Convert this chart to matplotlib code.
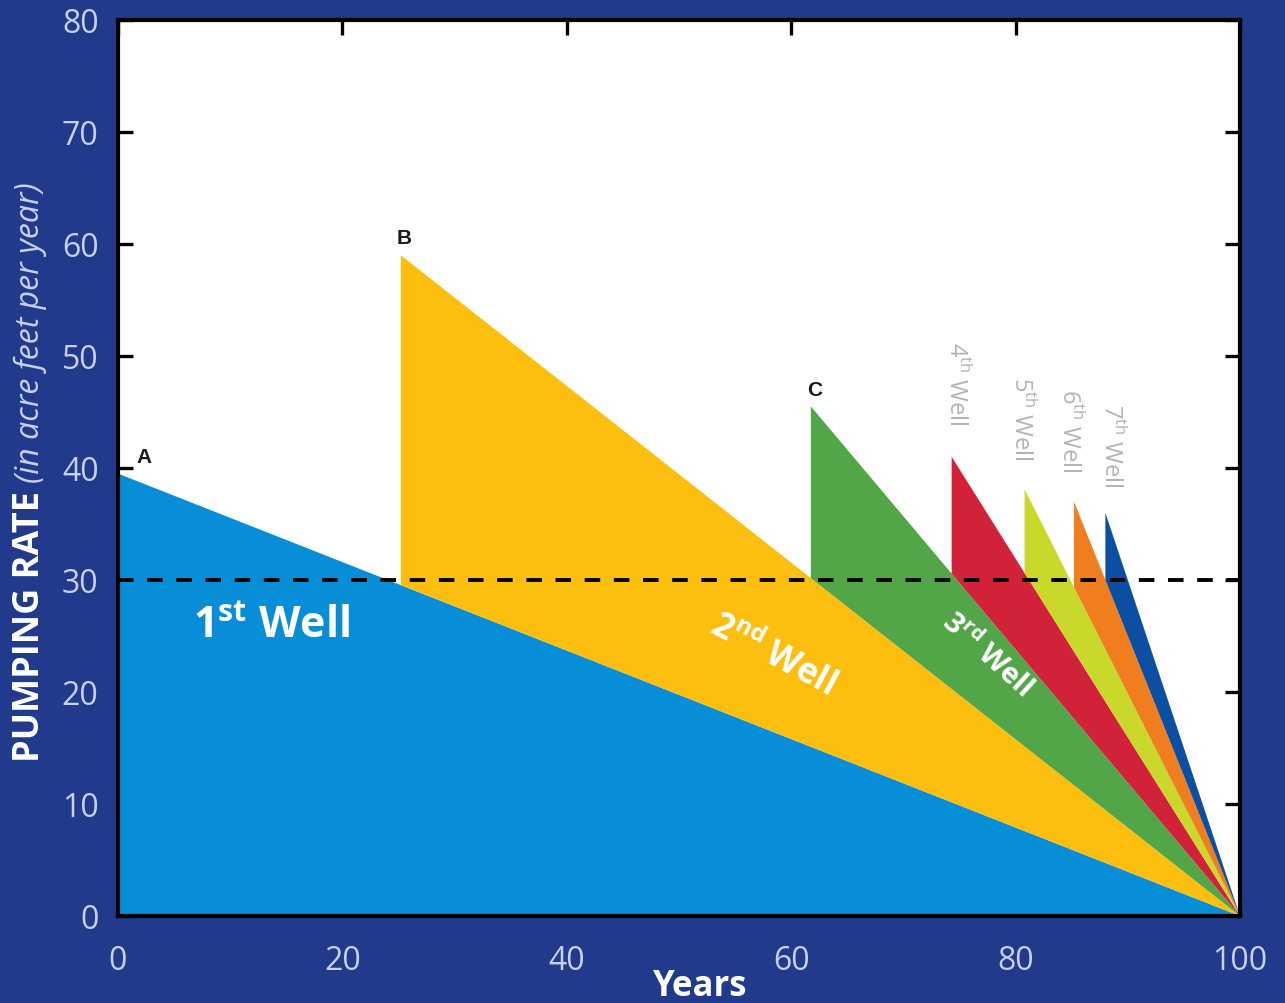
import matplotlib
matplotlib.use("Agg")
import matplotlib.pyplot as plt
from matplotlib.patches import Polygon

plt.rcParams['font.family'] = ['Open Sans', 'DejaVu Sans']
plt.rcParams['mathtext.fontset'] = 'custom'
plt.rcParams['mathtext.rm'] = 'Open Sans'
plt.rcParams['mathtext.bf'] = 'Open Sans:bold'

# well data: start year, peak pumping rate (acre feet per year)
well_start = [0, 25.2, 61.75, 74.3, 80.8, 85.2, 88.0]
well_peak = [39.5, 59.0, 45.5, 41.0, 38.1, 37.0, 36.0]
well_colors = ['#078ed6', '#fcbf10', '#52a647', '#d1223a', '#c9d82b', '#f07e1f', '#0b4fa3']
end_year = 100
threshold = 30
peak_marks = ['A', 'B', 'C']

bg = '#213a8b'
tick_col = '#c8d0ee'

fig = plt.figure(figsize=(12.85, 10.04), dpi=100, facecolor=bg)
ax = fig.add_axes([118 / 1285, 87 / 1004, 1122 / 1285, 896 / 1004])
ax.set_facecolor('white')
ax.set_xlim(0, 100)
ax.set_ylim(0, 80)


def line_at(i, x):
    # value of well i's declining line at year x
    return well_peak[i] * (end_year - x) / (end_year - well_start[i])


for i in range(len(well_start)):
    x0 = well_start[i]
    base = 0 if i == 0 else line_at(i - 1, x0)
    pts = [(x0, base), (x0, well_peak[i]), (end_year, 0)]
    ax.add_patch(Polygon(pts, closed=True, facecolor=well_colors[i],
                         edgecolor='none', zorder=2))

ax.axhline(threshold, color='black', lw=2.8, ls=(0, (4, 3.5)), zorder=3)

# A, B, C marks
for i, m in enumerate(peak_marks):
    ax.text(well_start[i] + 0.3 + (2 if i == 0 else 0), well_peak[i] + 0.7, m,
            fontsize=15, fontweight='bold', color='#1a1a1a',
            family=['Liberation Sans', 'DejaVu Sans'],
            ha='center', va='bottom', zorder=4)

# well labels
ax.text(13.7, 26.0, r'1$^{\mathbf{st}}$ Well', fontsize=31, fontweight='bold',
        color='white', ha='center', va='center', zorder=4)
ax.text(58.3, 23.3, r'2$^{\mathbf{nd}}$ Well', fontsize=25, fontweight='bold',
        color='white', ha='center', va='center', rotation=-28,
        rotation_mode='anchor', zorder=4)
ax.text(77.4, 23.4, r'3$^{\mathbf{rd}}$ Well', fontsize=21, fontweight='bold',
        color='white', ha='center', va='center', rotation=-42,
        rotation_mode='anchor', zorder=4)

small_x = [74.7, 80.5, 84.8, 88.5]
small_top = [51.3, 48.2, 47.1, 45.8]
small_txt = [r'4$^{\mathrm{th}}$ Well', r'5$^{\mathrm{th}}$ Well',
             r'6$^{\mathrm{th}}$ Well', r'7$^{\mathrm{th}}$ Well']
for x, y, t in zip(small_x, small_top, small_txt):
    ax.text(x, y, t, fontsize=17, color='#b3b3b3', rotation=-90,
            ha='center', va='top', zorder=4)

# axes styling
for s in ax.spines.values():
    s.set_linewidth(3)
    s.set_color('black')
    s.set_zorder(5)

ax.set_xticks([0, 20, 40, 60, 80, 100])
ax.set_yticks(range(0, 81, 10))
ax.tick_params(direction='in', length=11, width=2.4, color='black',
               labelcolor=tick_col, labelsize=23, top=True, right=True,
               labeltop=False, labelright=False)
ax.tick_params(axis='x', pad=20)
ax.tick_params(axis='y', pad=14)

fig.text(700 / 1285, 1 - 987 / 1004, 'Years', fontsize=25, fontweight='bold',
         color='white', ha='center', va='center')

t1 = fig.text(30 / 1285, 1 - 762 / 1004, 'PUMPING RATE', fontsize=26,
              fontweight='bold', color='white', rotation=90,
              ha='center', va='bottom')
fig.canvas.draw()
bb = t1.get_window_extent().transformed(fig.transFigure.inverted())
fig.text(30 / 1285, bb.y1 + 0.008, '(in acre feet per year)', fontsize=23,
         style='italic', color=tick_col, rotation=90, ha='center', va='bottom')

fig.savefig('out.png', dpi=100, facecolor=bg)
